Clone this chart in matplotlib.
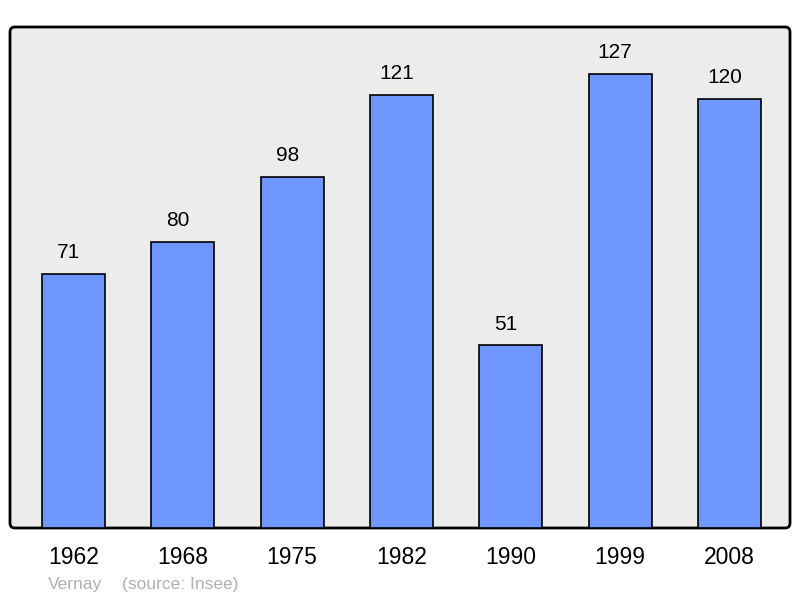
import matplotlib
matplotlib.use("Agg")
import matplotlib.pyplot as plt
from matplotlib.patches import FancyBboxPatch
from matplotlib.transforms import IdentityTransform

years = ["1962", "1968", "1975", "1982", "1990", "1999", "2008"]
population = [71, 80, 98, 121, 51, 127, 120]

plt.rcParams['font.family'] = ['Liberation Sans', 'DejaVu Sans']

fig = plt.figure(figsize=(8, 5.98), dpi=100)
ax = fig.add_axes([9 / 800, 70 / 598, 781 / 800, 501 / 598])
ax.set_facecolor('none')
ax.set_zorder(1)

# rounded frame in pixel coords
frame = FancyBboxPatch((10, 70), 780, 501, boxstyle="round,pad=0,rounding_size=5",
                       transform=IdentityTransform(), facecolor='#ececec',
                       edgecolor='black', linewidth=2, zorder=-1)
fig.patches.append(frame)

x = range(len(years))
ax.bar(x, population, width=0.576, color='#7096ff', edgecolor='black', linewidth=1.2, zorder=2)
for i, v in enumerate(population):
    ax.annotate(str(v), (i, v), xytext=(-3.5, 8.5), textcoords='offset points',
                ha='center', va='bottom', fontsize=15)

ax.set_xlim(-0.59, 6.555)
ax.set_ylim(0, 140)
for s in ax.spines.values():
    s.set_visible(False)
ax.set_yticks([])
ax.set_xticks(list(x))
ax.set_xticklabels(years, fontsize=16.5)
ax.tick_params(axis='x', length=0, pad=13)

fig.text(48 / 800, 1 - 584 / 598, "Vernay", color='#b0b0b0', fontsize=12.5, va='center')
fig.text(122 / 800, 1 - 584 / 598, "(source: Insee)", color='#b0b0b0', fontsize=12.5, va='center')

fig.savefig("out.png", dpi=100)
